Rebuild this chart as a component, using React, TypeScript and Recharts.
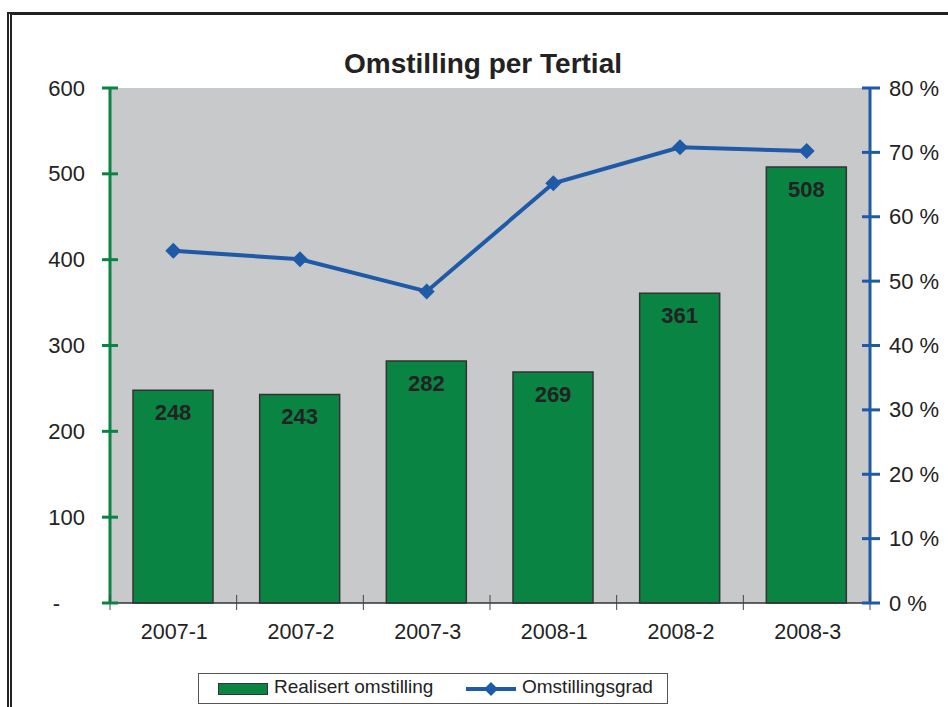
import React from 'react';
import {
  ComposedChart,
  Bar,
  Line,
  XAxis,
  YAxis,
  CartesianGrid,
  LabelList,
} from 'recharts';

const periods = ['2007-1', '2007-2', '2007-3', '2008-1', '2008-2', '2008-3'];
const realisert = [248, 243, 282, 269, 361, 508];
const grad = [54.7, 53.4, 48.4, 65.2, 70.8, 70.2];
const leftTicks = [0, 100, 200, 300, 400, 500, 600];
const rightTicks = [0, 10, 20, 30, 40, 50, 60, 70, 80];

const data = periods.map((p, i) => ({ period: p, realisert: realisert[i], grad: grad[i] }));

const GREEN = '#0a8442';
const BLUE = '#1f5aa8';
const PLOT_BG = '#c8c9cb';
const INK = '#222';
const FONT = 'Arial, "Liberation Sans", sans-serif';

function LeftTick(props: any) {
  const { x, y, payload } = props;
  const zero = payload.value === 0;
  return (
    <g>
      <line x1={x - 8} x2={x + 8} y1={y} y2={y} stroke={GREEN} strokeWidth={3} />
      <text
        x={zero ? x - 50 : x - 25}
        y={y}
        textAnchor="end"
        dominantBaseline="central"
        fontSize={22}
        fontFamily={FONT}
        fill={INK}
      >
        {zero ? '-' : payload.value}
      </text>
    </g>
  );
}

function RightTick(props: any) {
  const { x, y, payload } = props;
  return (
    <g>
      <line x1={x - 8} x2={x + 10} y1={y} y2={y} stroke={BLUE} strokeWidth={3} />
      <text x={x + 19} y={y} dominantBaseline="central" fontSize={22} fontFamily={FONT} fill={INK}>
        {payload.value} %
      </text>
    </g>
  );
}

function CatTick(props: any) {
  const { x, y, payload, index, visibleTicksCount } = props;
  const half = payload.offset || 63;
  const last = index === visibleTicksCount - 1;
  return (
    <g>
      <line x1={x - half} x2={x - half} y1={y - 8} y2={y + 7} stroke="#444" strokeWidth={1} />
      {last && <line x1={x + half} x2={x + half} y1={y - 8} y2={y + 7} stroke="#444" strokeWidth={1} />}
      <text x={x + 1} y={y + 36} textAnchor="middle" fontSize={21.5} fontFamily={FONT} fill={INK}>
        {payload.value}
      </text>
    </g>
  );
}

function Diamond(props: any) {
  const { cx, cy } = props;
  if (cx == null || cy == null) return null;
  const r = 8;
  return <polygon points={`${cx},${cy - r} ${cx + r},${cy} ${cx},${cy + r} ${cx - r},${cy}`} fill={BLUE} />;
}

export default function App() {
  return (
    <div style={{ position: 'absolute', left: 0, top: 0, width: 948, height: 707, background: '#fff', fontFamily: FONT }}>
      <div
        style={{
          position: 'absolute',
          left: 7,
          top: 12,
          width: 941,
          height: 695,
          borderTop: `3px solid ${INK}`,
          borderLeft: `5px double ${INK}`,
          boxSizing: 'border-box',
        }}
      />
      <div
        style={{
          position: 'absolute',
          left: 103,
          width: 760,
          top: 48,
          textAlign: 'center',
          fontSize: 28,
          fontWeight: 'bold',
          color: INK,
        }}
      >
        Omstilling per Tertial
      </div>
      <ComposedChart
        width={948}
        height={707}
        data={data}
        margin={{ top: 88, right: 0, bottom: 64, left: 0 }}
        style={{ position: 'absolute', left: 0, top: 0 }}
      >
        <CartesianGrid fill={PLOT_BG} stroke="none" horizontal={false} vertical={false} />
        <XAxis
          dataKey="period"
          height={40}
          tickSize={0}
          tickMargin={0}
          tick={<CatTick />}
          axisLine={{ stroke: '#333', strokeWidth: 1.5 }}
          interval={0}
        />
        <YAxis
          yAxisId="left"
          width={110}
          domain={[0, 600]}
          ticks={leftTicks}
          tickSize={0}
          tickMargin={0}
          tick={<LeftTick />}
          axisLine={{ stroke: GREEN, strokeWidth: 3 }}
          interval={0}
        />
        <YAxis
          yAxisId="right"
          orientation="right"
          width={78}
          domain={[0, 80]}
          ticks={rightTicks}
          tickSize={0}
          tickMargin={0}
          tick={<RightTick />}
          axisLine={{ stroke: BLUE, strokeWidth: 3 }}
          interval={0}
        />
        <Bar yAxisId="left" dataKey="realisert" barSize={80} fill={GREEN} stroke="#333" strokeWidth={1.5} isAnimationActive={false}>
          <LabelList
            dataKey="realisert"
            position="insideTop"
            offset={14}
            fontSize={22}
            fontWeight="bold"
            fontFamily={FONT}
            fill={INK}
          />
        </Bar>
        <Line
          yAxisId="right"
          dataKey="grad"
          stroke={BLUE}
          strokeWidth={4}
          dot={<Diamond />}
          activeDot={false}
          isAnimationActive={false}
        />
      </ComposedChart>
      <div
        style={{
          position: 'absolute',
          left: 198,
          top: 673,
          width: 470,
          height: 31,
          border: '1px solid #555',
          boxSizing: 'border-box',
          fontSize: 19,
          color: INK,
        }}
      >
        <div style={{ position: 'absolute', left: 19, top: 9, width: 50, height: 12, background: GREEN, border: '1px solid #333', boxSizing: 'border-box' }} />
        <div style={{ position: 'absolute', left: 75, top: 2, whiteSpace: 'nowrap' }}>Realisert omstilling</div>
        <svg style={{ position: 'absolute', left: 266, top: 5 }} width={52} height={20}>
          <line x1={1} x2={51} y1={10} y2={10} stroke={BLUE} strokeWidth={4} />
          <polygon points="26,3 33,10 26,17 19,10" fill={BLUE} />
        </svg>
        <div style={{ position: 'absolute', left: 323, top: 2, whiteSpace: 'nowrap' }}>Omstillingsgrad</div>
      </div>
    </div>
  );
}
